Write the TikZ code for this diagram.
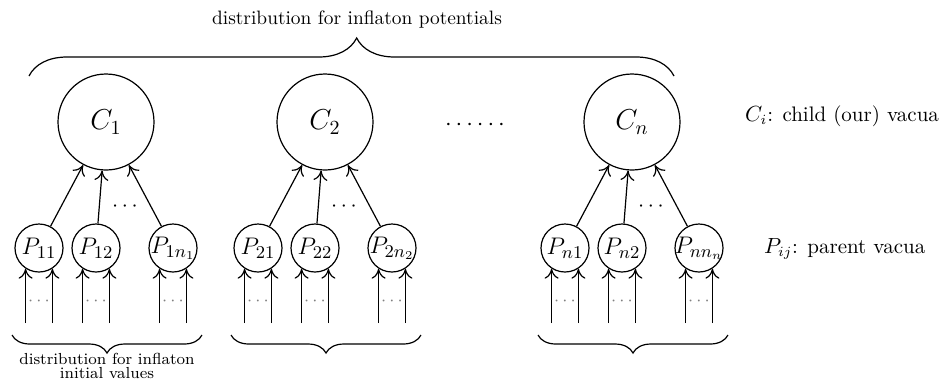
\documentclass[tikz,border=0pt]{standalone}
\usetikzlibrary{arrows.meta,decorations.pathreplacing,calc}
\begin{document}
\begin{tikzpicture}[x=0.5pt,y=-0.5pt,
  cnode/.style={circle,draw,line width=0.6pt,minimum size=48pt,inner sep=0pt},
  pnode/.style={circle,draw,line width=0.6pt,minimum size=24pt,inner sep=0pt},
  clab/.style={font=\fontsize{14}{16}\selectfont},
  plab/.style={font=\fontsize{13}{15}\selectfont},
  arr/.style={line width=0.6pt,-{Computer Modern Rightarrow[length=5pt,width=7pt]}},
  brc/.style={decorate,line width=0.6pt},
  smalldots/.style={font=\fontsize{9}{10}\selectfont,text=gray},
  middots/.style={font=\fontsize{11}{12}\selectfont},
  rlab/.style={anchor=base west,font=\fontsize{10.5}{12}\selectfont},
]
\useasboundingbox (0,0) rectangle (941,388);
\coordinate (bot) at (0,323);
\foreach \dx/\g in {0/1, 219/2, 526/n} {
  \node[cnode,label={[clab]center:$C_{\g}$}] (c\g) at (106+\dx,122) {};
  \node[pnode,label={[plab]center:$P_{\g 1}$}] (p\g a) at (39+\dx,248) {};
  \node[pnode,label={[plab]center:$P_{\g 2}$}] (p\g b) at (96+\dx,248) {};
  \node[pnode,label={[plab]center:$P_{\g n_{\g}}$}] (p\g c) at (173+\dx,248) {};
  \draw[arr] (p\g a) -- (c\g);
  \draw[arr] (p\g b) -- (c\g);
  \draw[arr] (p\g c) -- (c\g);
  \node[middots] (e\g) at (125+\dx,207) {$\cdots$};
  \foreach \k in {a,b,c} {
    \draw[arr] (p\g\k.237 |- bot) -- (p\g\k.237);
    \draw[arr] (p\g\k.303 |- bot) -- (p\g\k.303);
    \node[smalldots] (d\g\k) at ($(p\g\k)+(0,53)$) {$\cdots$};
  }
  \coordinate (bl\g) at (12+\dx,335);
  \coordinate (br\g) at (202+\dx,335);
  \draw[brc,decoration={brace,mirror,amplitude=9pt}] (bl\g) -- (br\g);
}
\node[font=\fontsize{12}{14}\selectfont] (hdots) at (475,125) {$\cdots\cdots$};
\coordinate (tl) at (29,76);
\coordinate (tr) at (674,76);
\draw[brc,decoration={brace,amplitude=19pt,aspect=0.508}] (tl) -- (tr);
\node[font=\fontsize{9.7}{11}\selectfont] (toptext) at (357,20) {distribution for inflaton potentials};
\node[font=\fontsize{8}{7}\selectfont,align=center] (bottext) at (107,366) {distribution for inflaton\\initial values};
\node[rlab] (ci) at (738,121) {$C_i$: child (our) vacua};
\node[rlab] (pij) at (757,253) {$P_{ij}$: parent vacua};
\end{tikzpicture}
\end{document}
